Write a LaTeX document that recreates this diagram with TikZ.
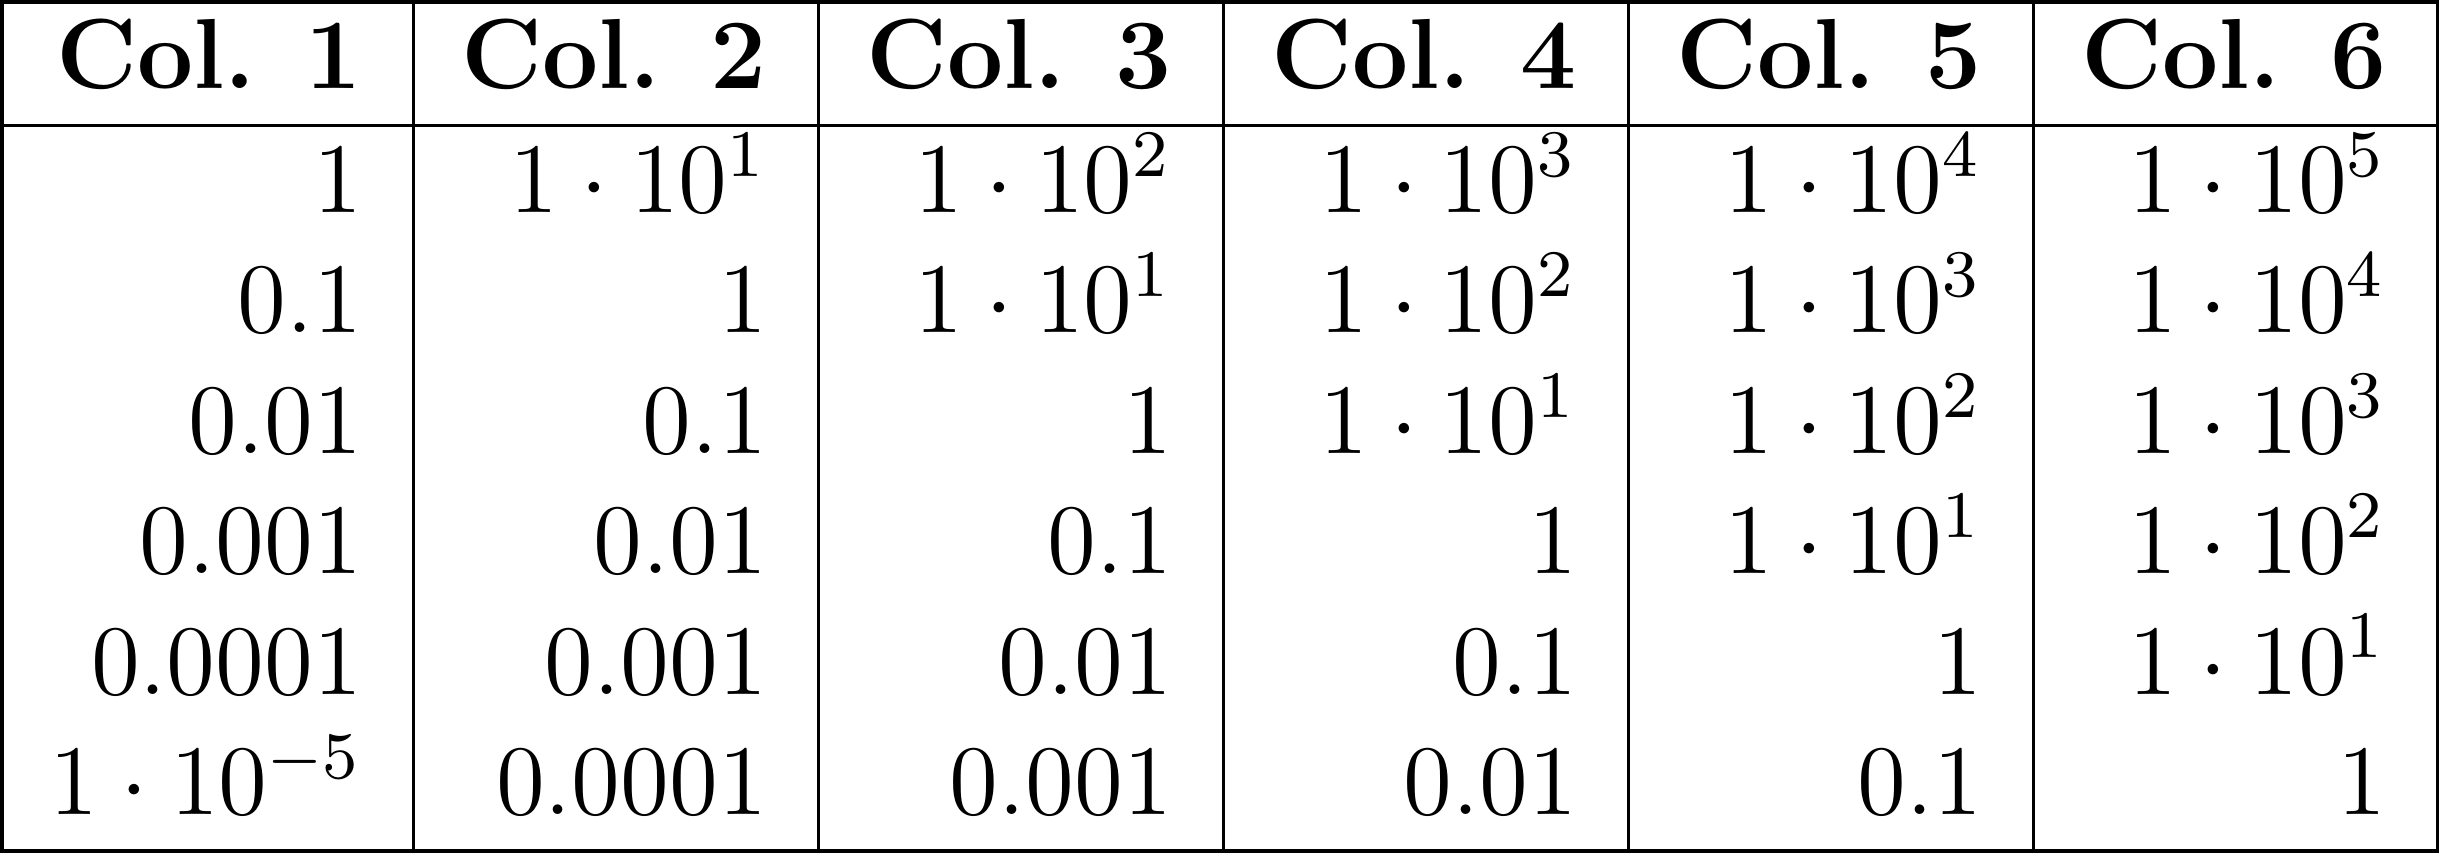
\documentclass[tikz,border=0pt]{standalone}
\begin{document}
\begin{tikzpicture}[x=1pt,y=1pt,
  font=\fontsize{12}{14.5}\selectfont,
  cell/.style={anchor=base east, inner sep=0pt, outer sep=0pt},
  head/.style={cell, font=\fontsize{12}{14.5}\selectfont\bfseries},
  rule/.style={line width=0.4pt, line cap=rect}]
\useasboundingbox (0,0) rectangle (294.03,-102.87);
% column right edges
\def\xa{43.61}\def\xb{92.39}\def\xc{141.17}\def\xd{189.95}\def\xe{238.73}\def\xf{287.45}
% baselines
\def\yh{-10.7}
\def\ya{-25.6}\def\yb{-40.1}\def\yc{-54.6}\def\yd{-69.1}\def\ye{-83.6}\def\yf{-98.1}
% header
\node[head] (h1) at (\xa,\yh) {Col. 1};
\node[head] (h2) at (\xb,\yh) {Col. 2};
\node[head] (h3) at (\xc,\yh) {Col. 3};
\node[head] (h4) at (\xd,\yh) {Col. 4};
\node[head] (h5) at (\xe,\yh) {Col. 5};
\node[head] (h6) at (\xf,\yh) {Col. 6};
% row 1
\node[cell] (c11) at (\xa,\ya) {$1$};
\node[cell] (c12) at (\xb,\ya) {$1\cdot 10^{1}$};
\node[cell] (c13) at (\xc,\ya) {$1\cdot 10^{2}$};
\node[cell] (c14) at (\xd,\ya) {$1\cdot 10^{3}$};
\node[cell] (c15) at (\xe,\ya) {$1\cdot 10^{4}$};
\node[cell] (c16) at (\xf,\ya) {$1\cdot 10^{5}$};
% row 2
\node[cell] (c21) at (\xa,\yb) {$0.1$};
\node[cell] (c22) at (\xb,\yb) {$1$};
\node[cell] (c23) at (\xc,\yb) {$1\cdot 10^{1}$};
\node[cell] (c24) at (\xd,\yb) {$1\cdot 10^{2}$};
\node[cell] (c25) at (\xe,\yb) {$1\cdot 10^{3}$};
\node[cell] (c26) at (\xf,\yb) {$1\cdot 10^{4}$};
% row 3
\node[cell] (c31) at (\xa,\yc) {$0.01$};
\node[cell] (c32) at (\xb,\yc) {$0.1$};
\node[cell] (c33) at (\xc,\yc) {$1$};
\node[cell] (c34) at (\xd,\yc) {$1\cdot 10^{1}$};
\node[cell] (c35) at (\xe,\yc) {$1\cdot 10^{2}$};
\node[cell] (c36) at (\xf,\yc) {$1\cdot 10^{3}$};
% row 4
\node[cell] (c41) at (\xa,\yd) {$0.001$};
\node[cell] (c42) at (\xb,\yd) {$0.01$};
\node[cell] (c43) at (\xc,\yd) {$0.1$};
\node[cell] (c44) at (\xd,\yd) {$1$};
\node[cell] (c45) at (\xe,\yd) {$1\cdot 10^{1}$};
\node[cell] (c46) at (\xf,\yd) {$1\cdot 10^{2}$};
% row 5
\node[cell] (c51) at (\xa,\ye) {$0.0001$};
\node[cell] (c52) at (\xb,\ye) {$0.001$};
\node[cell] (c53) at (\xc,\ye) {$0.01$};
\node[cell] (c54) at (\xd,\ye) {$0.1$};
\node[cell] (c55) at (\xe,\ye) {$1$};
\node[cell] (c56) at (\xf,\ye) {$1\cdot 10^{1}$};
% row 6
\node[cell] (c61) at (\xa,\yf) {$1\cdot 10^{-5}$};
\node[cell] (c62) at (\xb,\yf) {$0.0001$};
\node[cell] (c63) at (\xc,\yf) {$0.001$};
\node[cell] (c64) at (\xd,\yf) {$0.01$};
\node[cell] (c65) at (\xe,\yf) {$0.1$};
\node[cell] (c66) at (\xf,\yf) {$1$};
% rules
\draw[rule] (0.24,-0.24) rectangle (293.62,-102.5);
\draw[rule] (0.24,-15.09) -- (293.62,-15.09);
\foreach \vx in {49.81,98.59,147.37,196.14,244.92}
  \draw[rule] (\vx,-0.24) -- (\vx,-102.5);
\end{tikzpicture}
\end{document}
